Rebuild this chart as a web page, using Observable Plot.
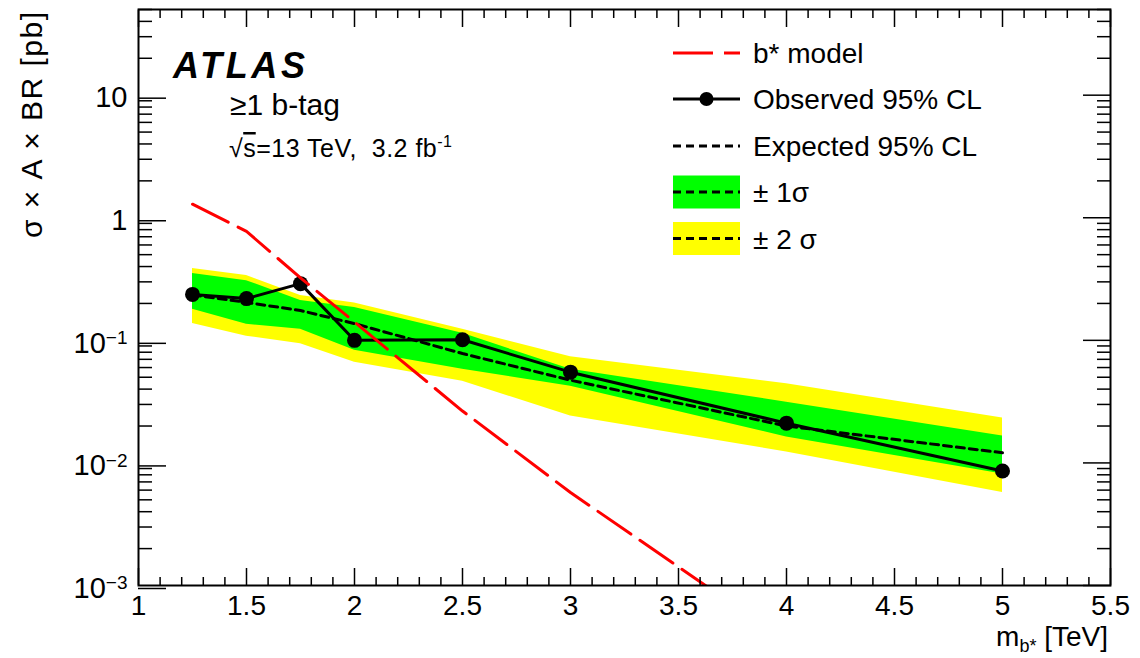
<!DOCTYPE html>
<html><head><meta charset="utf-8">
<script src="https://cdn.jsdelivr.net/npm/d3@7"></script>
<script src="https://cdn.jsdelivr.net/npm/@observablehq/plot@0.6"></script>
<style>
html,body{margin:0;padding:0;background:#fff;}
#chart{width:1140px;height:658px;}
</style></head><body><div id="chart"></div>
<script>
// ---- data ----
const mass     = [1.25, 1.5, 1.75, 2.0, 2.5, 3.0, 4.0, 5.0];
const observed = [0.237, 0.219, 0.290, 0.100, 0.101, 0.055, 0.0211, 0.0086];
const expected = [0.235, 0.204, 0.175, 0.137, 0.078, 0.0473, 0.0200, 0.0121];
const plus1    = [0.351, 0.307, 0.211, 0.185, 0.114, 0.058, 0.0313, 0.0166];
const minus1   = [0.179, 0.135, 0.123, 0.083, 0.058, 0.0423, 0.0163, 0.00814];
const plus2    = [0.385, 0.338, 0.232, 0.202, 0.123, 0.0734, 0.0443, 0.0233];
const minus2   = [0.1375, 0.108, 0.094, 0.0662, 0.0464, 0.0241, 0.0123, 0.00574];
const modelMass = [1.25, 1.5, 1.75, 2.0, 2.5, 3.0, 4.0];
const modelXsec = [1.29, 0.774, 0.323, 0.141, 0.0265, 0.00574, 0.00035];

const xMajor = [1, 1.5, 2, 2.5, 3, 3.5, 4, 4.5, 5, 5.5];
const xMajorLabels = ["1", "1.5", "2", "2.5", "3", "3.5", "4", "4.5", "5", "5.5"];
const yMajor = [1e-3, 1e-2, 1e-1, 1, 10];
const yMajorLabels = ["10^−3", "10^−2", "10^−1", "1", "10"];

const legendLabels = ["b* model", "Observed 95% CL", "Expected 95% CL", "± 1σ", "± 2 σ"];

// ---- derived tables ----
const rows = mass.map((m, i) => ({m, obs: observed[i], exp: expected[i], p1: plus1[i], m1: minus1[i], p2: plus2[i], m2: minus2[i]}));
const modelRows = modelMass.map((m, i) => ({m, v: modelXsec[i]}));
const xMinor = d3.range(10, 56).map(d => d / 10).filter(d => !xMajor.includes(d));
const yMinor = [];
for (const dec of yMajor) for (let k = 2; k <= 9; k++) { const v = k * dec; if (v <= 50) yMinor.push(v); }
const xLab = new Map(xMajor.map((d, i) => [d, xMajorLabels[i]]));
const yLab = new Map(yMajor.map((d, i) => [d, yMajorLabels[i]]));

const FONT = '"Liberation Sans", Arial, Helvetica, sans-serif';
const W = 1140, H = 658, ML = 138, MR = 30, MT = 9, MB = 73;
const none = () => "";

const plot = Plot.plot({
  width: W, height: H,
  marginLeft: ML, marginRight: MR, marginTop: MT, marginBottom: MB,
  style: {fontFamily: FONT, background: "white", color: "black"},
  x: {domain: [1, 5.5]},
  y: {type: "log", domain: [1e-3, 50]},
  marks: [
    Plot.areaY(rows, {x: "m", y1: "m2", y2: "p2", fill: "#ffff00", clip: true}),
    Plot.areaY(rows, {x: "m", y1: "m1", y2: "p1", fill: "#00ff00", clip: true}),
    Plot.line(rows, {x: "m", y: "exp", stroke: "black", strokeWidth: 3, strokeDasharray: "8,5", clip: true}),
    Plot.line(rows, {x: "m", y: "obs", stroke: "black", strokeWidth: 3, clip: true}),
    Plot.dot(rows, {x: "m", y: "obs", r: 7.5, fill: "black", stroke: "none"}),
    Plot.line(modelRows, {x: "m", y: "v", stroke: "#ff0000", strokeWidth: 3, strokeDasharray: "40,11", clip: true}),
    // axes: inward ROOT-style ticks on all four sides
    Plot.axisX(xMajor, {anchor: "bottom", tickSize: -17, tickPadding: 27, strokeWidth: 1.5, fontSize: 28, tickFormat: d => xLab.get(d), label: null}),
    Plot.axisX(xMinor, {anchor: "bottom", tickSize: -8, strokeWidth: 1.5, tickFormat: none, label: null}),
    Plot.axisX(xMajor, {anchor: "top", tickSize: -17, strokeWidth: 1.5, tickFormat: none, label: null}),
    Plot.axisX(xMinor, {anchor: "top", tickSize: -8, strokeWidth: 1.5, tickFormat: none, label: null}),
    Plot.axisY(yMajor, {anchor: "left", tickSize: -28, tickPadding: 39, strokeWidth: 1.5, fontSize: 29, dy: 3, tickFormat: d => yLab.get(d), label: null}),
    Plot.axisY(yMinor, {anchor: "left", tickSize: -14, strokeWidth: 1.5, tickFormat: none, label: null}),
    Plot.axisY(yMajor, {anchor: "right", tickSize: -28, strokeWidth: 1.5, tickFormat: none, label: null}),
    Plot.axisY(yMinor, {anchor: "right", tickSize: -14, strokeWidth: 1.5, tickFormat: none, label: null}),
    Plot.frame({stroke: "black", strokeWidth: 2})
  ]
});
document.getElementById("chart").appendChild(plot);

const svg = d3.select(plot);

// superscripts on log tick labels
svg.selectAll('g[aria-label="y-axis tick label"] text').each(function() {
  const t = this.textContent;
  if (t.includes("^")) {
    const [base, exp] = t.split("^");
    const sel = d3.select(this);
    sel.text(null);
    sel.append("tspan").text(base);
    sel.append("tspan").attr("dy", "-0.45em").attr("font-size", 19).text(exp);
  }
});

// annotation layer (explicit start anchoring; Plot's root uses middle)
const ann = svg.append("g").attr("font-family", FONT).attr("text-anchor", "start").attr("fill", "black");

// axis titles
ann.append("text")
  .attr("transform", "translate(42,12) rotate(-90)")
  .attr("text-anchor", "end").attr("font-size", 30)
  .attr("textLength", 226).attr("lengthAdjust", "spacing")
  .text("σ × A × BR [pb]");

const xt = ann.append("text")
  .attr("x", 1108).attr("y", 646).attr("text-anchor", "end").attr("font-size", 28);
xt.append("tspan").text("m");
xt.append("tspan").attr("font-size", 18).attr("dy", 6).text("b*");
xt.append("tspan").attr("dy", -6).text(" [TeV]");

// ATLAS labels
ann.append("text").attr("x", 173).attr("y", 78)
  .attr("font-size", 36).attr("font-weight", "bold").attr("font-style", "italic")
  .attr("textLength", 132).attr("lengthAdjust", "spacing").text("ATLAS");
ann.append("text").attr("x", 230).attr("y", 115)
  .attr("font-size", 30).text("≥1 b-tag");
const en = ann.append("text").attr("x", 229).attr("y", 157).attr("font-size", 25)
  .attr("textLength", 223).attr("lengthAdjust", "spacing");
en.append("tspan").text("√");
en.append("tspan").attr("text-decoration", "overline").text("s");
en.append("tspan").text("=13 TeV,  3.2 fb");
en.append("tspan").attr("dy", -10).attr("font-size", 16).text("-1");

// legend
const lg = ann.append("g").attr("font-size", 28);
const LX1 = 673, LX2 = 740, TX = 753;
const rowY = [53, 99, 146, 192, 238.5];
lg.append("rect").attr("x", LX1).attr("y", rowY[3] - 16.5).attr("width", LX2 - LX1).attr("height", 33).attr("fill", "#00ff00");
lg.append("rect").attr("x", LX1).attr("y", rowY[4] - 16.5).attr("width", LX2 - LX1).attr("height", 33).attr("fill", "#ffff00");
lg.append("line").attr("x1", LX1).attr("x2", LX2).attr("y1", rowY[0]).attr("y2", rowY[0])
  .attr("stroke", "#ff0000").attr("stroke-width", 3).attr("stroke-dasharray", "40,11");
lg.append("line").attr("x1", LX1).attr("x2", LX2).attr("y1", rowY[1]).attr("y2", rowY[1])
  .attr("stroke", "black").attr("stroke-width", 3);
lg.append("circle").attr("cx", (LX1 + LX2) / 2).attr("cy", rowY[1]).attr("r", 7).attr("fill", "black");
for (const k of [2, 3, 4]) {
  lg.append("line").attr("x1", LX1).attr("x2", LX2).attr("y1", rowY[k]).attr("y2", rowY[k])
    .attr("stroke", "black").attr("stroke-width", 3).attr("stroke-dasharray", "8,5");
}
legendLabels.forEach((s, i) => {
  lg.append("text").attr("x", TX).attr("y", rowY[i] + 10).text(s);
});
</script>
</body></html>
